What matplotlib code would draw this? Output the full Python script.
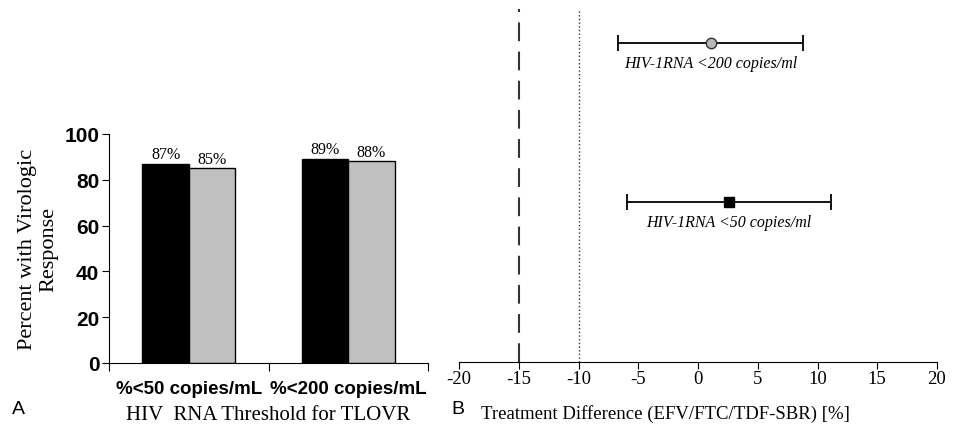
import matplotlib.pyplot as plt
import numpy as np

# Panel A data
categories = ['%<50 copies/mL', '%<200 copies/mL']
efv_ftc_tdf = [87, 89]   # black bars
sbr = [85, 88]           # grey bars

# Panel B data (treatment difference with 95% CI)
rows = ['HIV-1RNA <50 copies/ml', 'HIV-1RNA <200 copies/ml']
diff = [2.6, 1.1]
ci_low = [-5.9, -6.7]
ci_high = [11.1, 8.8]
margins = [-15, -10]
xticks_b = list(range(-20, 21, 5))

serif = ['Liberation Serif', 'DejaVu Serif']
sans = ['Liberation Sans', 'DejaVu Sans']

fig = plt.figure(figsize=(9.73, 4.27), dpi=100)

# ---- Panel A ----
axA = fig.add_axes([109 / 973, 63 / 427, 319 / 973, 229 / 427])
x = np.arange(len(categories)) + 0.5
w = 0.29
b1 = axA.bar(x - w / 2, efv_ftc_tdf, w, color='black', edgecolor='black', linewidth=1)
b2 = axA.bar(x + w / 2, sbr, w, color='#c0c0c0', edgecolor='black', linewidth=1)
for bars in (b1, b2):
    for r in bars:
        axA.text(r.get_x() + r.get_width() / 2, r.get_height() + 0.8, f'{r.get_height():.0f}%',
                 ha='center', va='bottom', fontsize=11.5, family=serif)
axA.set_xlim(0, 2)
axA.set_ylim(0, 100)
axA.set_yticks(range(0, 101, 20))
axA.set_xticks([0, 1, 2])
axA.set_xticklabels([])
axA.set_xticks(x, minor=True)
axA.set_xticklabels(categories, minor=True, fontsize=13.5, fontweight='bold', family=sans)
axA.tick_params(axis='x', which='minor', length=0, pad=12)
axA.tick_params(axis='x', which='major', length=6, direction='out')
axA.tick_params(axis='y', labelsize=15, length=5, direction='out', pad=2)
for lab in axA.get_yticklabels():
    lab.set_fontweight('bold')
    lab.set_family(sans)
for s in ['top', 'right']:
    axA.spines[s].set_visible(False)
axA.set_ylabel('Percent with Virologic\nResponse', fontsize=16, family=serif)
axA.yaxis.set_label_coords((38 - 109) / 319, 0.5)
axA.yaxis.label.set_va('center')
axA.set_xlabel('HIV  RNA Threshold for TLOVR', fontsize=15, family=serif)
axA.xaxis.set_label_coords(0.5, (364 - 416) / 229)
axA.xaxis.label.set_va('center')

# ---- Panel B ----
axB = fig.add_axes([459 / 973, 64 / 427, 478 / 973, 353 / 427])
ypos = [1, 2]
lo = np.array(diff) - np.array(ci_low)
hi = np.array(ci_high) - np.array(diff)
axB.errorbar(diff[0], ypos[0], xerr=[[lo[0]], [hi[0]]], fmt='s', color='black',
             ms=6.5, ecolor='black', elinewidth=1.3, capsize=6, capthick=1.3)
axB.errorbar(diff[1], ypos[1], xerr=[[lo[1]], [hi[1]]], fmt='o', mfc='#b8b8b8',
             mec='#333333', ms=7.5, ecolor='black', elinewidth=1.3, capsize=6, capthick=1.3)
for i, r in enumerate(rows):
    axB.text((ci_low[i] + ci_high[i]) / 2, ypos[i] - 0.075, r, ha='center', va='top',
             fontsize=11.5, style='italic', family=serif)
axB.axvline(margins[0], color='#333333', lw=1.5, dashes=(9, 5))
axB.axvline(margins[1], color='#333333', lw=1, ls=':')
axB.set_xlim(-20, 20)
axB.set_ylim(0, 2.21)
axB.set_xticks(xticks_b)
axB.set_xticklabels([str(t) for t in xticks_b], fontsize=13.5, family=serif)
axB.tick_params(axis='x', length=5, direction='out', pad=1)
axB.set_yticks([])
for s in ['top', 'right', 'left']:
    axB.spines[s].set_visible(False)
axB.set_xlabel('Treatment Difference (EFV/FTC/TDF-SBR) [%]', fontsize=13.5, family=serif)
axB.xaxis.set_label_coords((665 - 459) / 478, (363 - 414) / 353)
axB.xaxis.label.set_va('center')

fig.text(12 / 973, 17 / 427, 'A', fontsize=14, family=sans, va='center')
fig.text(451 / 973, 17 / 427, 'B', fontsize=14, family=sans, va='center')

fig.savefig('out.png', dpi=100)
